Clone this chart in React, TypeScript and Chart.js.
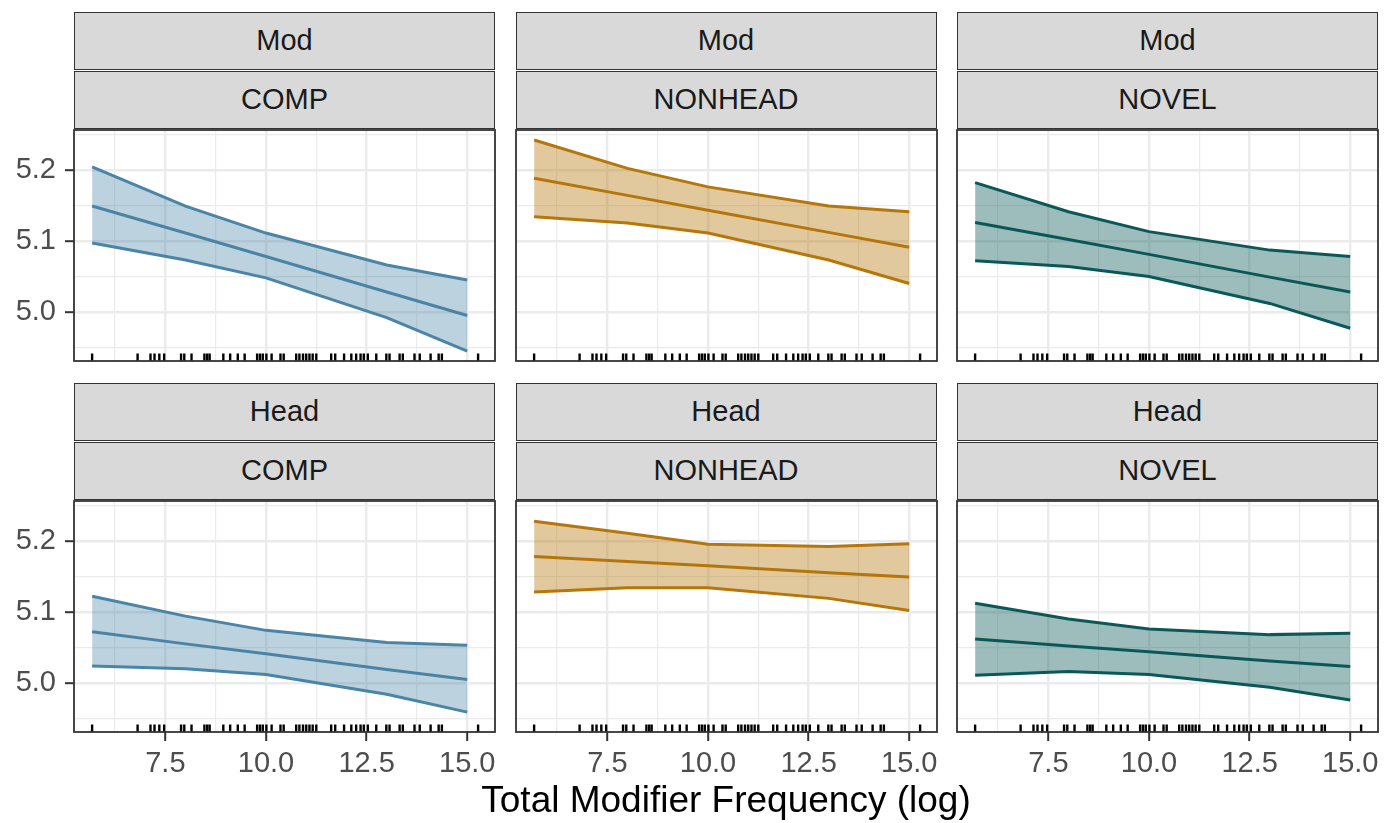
import React, { useEffect, useRef } from 'react';
import { Chart, registerables } from 'chart.js';

Chart.register(...registerables);

const FONT = "'Liberation Sans', Arial, sans-serif";
Chart.defaults.font.family = FONT;

// ---- data ----
const X_PRED = [5.68, 8, 10, 13, 15];
const RUG_X = [
  5.68, 6.81, 7.13, 7.23, 7.35, 7.47, 7.89, 7.97, 8.15, 8.47, 8.54, 8.6, 8.94, 9.11, 9.3, 9.47,
  9.78, 9.85, 9.92, 10.01, 10.14, 10.36, 10.44, 10.75, 10.83, 10.92, 11.0, 11.08, 11.16, 11.25,
  11.62, 11.72, 11.94, 12.12, 12.24, 12.35, 12.43, 12.53, 12.74, 12.99, 13.07, 13.32, 13.4,
  13.69, 13.82, 14.09, 14.29, 14.37, 15.27,
];

const ROW_LABELS = ['Mod', 'Head'];
const COL_LABELS = ['COMP', 'NONHEAD', 'NOVEL'];
const LINE_COLORS = ['#4A84A6', '#B5760A', '#0B5858'];
const FILL_COLORS = ['rgba(74,132,166,0.37)', 'rgba(181,118,10,0.40)', 'rgba(11,88,88,0.40)'];

const MOD_COMP_LO = [5.097, 5.073, 5.048, 4.992, 4.945];
const MOD_COMP_FIT = [5.149, 5.111, 5.078, 5.028, 4.995];
const MOD_COMP_HI = [5.204, 5.149, 5.111, 5.066, 5.045];

const MOD_NONHEAD_LO = [5.134, 5.125, 5.111, 5.073, 5.04];
const MOD_NONHEAD_FIT = [5.188, 5.164, 5.143, 5.112, 5.091];
const MOD_NONHEAD_HI = [5.242, 5.202, 5.176, 5.149, 5.141];

const MOD_NOVEL_LO = [5.072, 5.064, 5.05, 5.012, 4.977];
const MOD_NOVEL_FIT = [5.126, 5.102, 5.081, 5.049, 5.028];
const MOD_NOVEL_HI = [5.182, 5.141, 5.113, 5.087, 5.078];

const HEAD_COMP_LO = [5.024, 5.02, 5.012, 4.984, 4.959];
const HEAD_COMP_FIT = [5.072, 5.055, 5.041, 5.019, 5.005];
const HEAD_COMP_HI = [5.122, 5.094, 5.074, 5.057, 5.053];

const HEAD_NONHEAD_LO = [5.128, 5.134, 5.134, 5.119, 5.102];
const HEAD_NONHEAD_FIT = [5.178, 5.171, 5.165, 5.155, 5.149];
const HEAD_NONHEAD_HI = [5.2275, 5.2105, 5.195, 5.192, 5.196];

const HEAD_NOVEL_LO = [5.011, 5.016, 5.012, 4.994, 4.976];
const HEAD_NOVEL_FIT = [5.062, 5.052, 5.044, 5.031, 5.023];
const HEAD_NOVEL_HI = [5.112, 5.09, 5.076, 5.068, 5.07];

const PANEL_DATA = [
  [
    [MOD_COMP_LO, MOD_COMP_FIT, MOD_COMP_HI],
    [MOD_NONHEAD_LO, MOD_NONHEAD_FIT, MOD_NONHEAD_HI],
    [MOD_NOVEL_LO, MOD_NOVEL_FIT, MOD_NOVEL_HI],
  ],
  [
    [HEAD_COMP_LO, HEAD_COMP_FIT, HEAD_COMP_HI],
    [HEAD_NONHEAD_LO, HEAD_NONHEAD_FIT, HEAD_NONHEAD_HI],
    [HEAD_NOVEL_LO, HEAD_NOVEL_FIT, HEAD_NOVEL_HI],
  ],
];

const X_GRID = [6.25, 7.5, 8.75, 10, 11.25, 12.5, 13.75, 15];
const X_MAJOR = [7.5, 10, 12.5, 15];
const X_TICK_LABELS = ['7.5', '10.0', '12.5', '15.0'];
const Y_GRID = [4.95, 5.0, 5.05, 5.1, 5.15, 5.2, 5.25];
const Y_MAJOR = [5.0, 5.1, 5.2];
const Y_TICK_LABELS = ['5.0', '5.1', '5.2'];

const X_MIN = 5.23;
const X_MAX = 15.69;
const Y_MIN = 4.931;
const Y_MAX = 5.256;

const X_TITLE = 'Total Modifier Frequency (log)';

// ---- layout ----
const PX = [74, 515.5, 957];
const PY = [130, 501];
const PW = 421;
const PH = 231;
const STRIP_TOP = [
  [11.5, 70.5],
  [382.5, 441.5],
];
const STRIP_H = 58;

const majorIndex = (list: number[], v: number) => list.findIndex((m) => Math.abs(m - v) < 1e-6);

const panelDecor = {
  id: 'panelDecor',
  afterDatasetsDraw(chart: any) {
    const { ctx, chartArea: a, scales } = chart;
    ctx.save();
    ctx.strokeStyle = '#000000';
    ctx.lineWidth = 2.4;
    for (const v of RUG_X) {
      const x = scales.x.getPixelForValue(v);
      ctx.beginPath();
      ctx.moveTo(x, a.bottom);
      ctx.lineTo(x, a.bottom - 7.5);
      ctx.stroke();
    }
    ctx.strokeStyle = '#333333';
    ctx.lineWidth = 1.8;
    ctx.strokeRect(a.left, a.top, a.right - a.left, a.bottom - a.top);
    ctx.restore();
  },
};

function Panel({ row, col }: { row: number; col: number }) {
  const ref = useRef<HTMLCanvasElement>(null);
  const isLeft = col === 0;
  const isBottom = row === 1;
  const padL = 4;
  const padT = 4;
  const padR = 10;
  const yW = isLeft ? 70 : 0;
  const xH = isBottom ? 60 : 0;
  const padB = isBottom ? 0 : 4;
  const cl = PX[col] - yW - padL;
  const ct = PY[row] - padT;
  const cw = PW + yW + padL + padR;
  const ch = PH + padT + xH + padB;

  useEffect(() => {
    const [lo, fit, hi] = PANEL_DATA[row][col];
    const toPts = (arr: number[]) => X_PRED.map((x, i) => ({ x, y: arr[i] }));
    const color = LINE_COLORS[col];
    const chart = new Chart(ref.current as HTMLCanvasElement, {
      type: 'line',
      data: {
        datasets: [
          { data: toPts(lo), borderColor: color, borderWidth: 3, fill: false, pointRadius: 0 },
          { data: toPts(hi), borderColor: color, borderWidth: 3, fill: '-1', backgroundColor: FILL_COLORS[col], pointRadius: 0 },
          { data: toPts(fit), borderColor: color, borderWidth: 3, fill: false, pointRadius: 0 },
        ],
      },
      options: {
        animation: false,
        responsive: false,
        events: [],
        layout: { padding: { left: padL, top: padT, right: padR, bottom: padB } },
        plugins: { legend: { display: false }, tooltip: { enabled: false } },
        elements: { line: { tension: 0 }, point: { radius: 0 } },
        scales: {
          x: {
            type: 'linear',
            min: X_MIN,
            max: X_MAX,
            afterBuildTicks: (s: any) => {
              s.ticks = X_GRID.map((v) => ({ value: v }));
            },
            afterFit: (s: any) => {
              s.height = xH;
              s.paddingLeft = 0;
              s.paddingRight = 0;
              s.paddingTop = 0;
              s.paddingBottom = 0;
            },
            border: { display: false },
            grid: {
              color: '#EBEBEB',
              lineWidth: (c: any) => (majorIndex(X_MAJOR, c.tick?.value) >= 0 ? 2.4 : 1.2),
              drawTicks: isBottom,
              tickLength: 9,
              tickColor: (c: any) => (majorIndex(X_MAJOR, c.tick?.value) >= 0 ? '#333333' : 'rgba(0,0,0,0)'),
              tickWidth: 2,
            },
            ticks: {
              display: isBottom,
              autoSkip: false,
              maxRotation: 0,
              minRotation: 0,
              padding: 6,
              color: '#4D4D4D',
              font: { size: 29, family: FONT },
              callback: (v: any) => {
                const i = majorIndex(X_MAJOR, Number(v));
                return i >= 0 ? X_TICK_LABELS[i] : '';
              },
            },
          },
          y: {
            type: 'linear',
            min: Y_MIN,
            max: Y_MAX,
            afterBuildTicks: (s: any) => {
              s.ticks = Y_GRID.map((v) => ({ value: v }));
            },
            afterFit: (s: any) => {
              s.width = yW;
              s.paddingLeft = 0;
              s.paddingRight = 0;
              s.paddingTop = 0;
              s.paddingBottom = 0;
            },
            border: { display: false },
            grid: {
              color: '#EBEBEB',
              lineWidth: (c: any) => (majorIndex(Y_MAJOR, c.tick?.value) >= 0 ? 2.4 : 1.2),
              drawTicks: isLeft,
              tickLength: 9,
              tickColor: (c: any) => (majorIndex(Y_MAJOR, c.tick?.value) >= 0 ? '#333333' : 'rgba(0,0,0,0)'),
              tickWidth: 2,
            },
            ticks: {
              display: isLeft,
              autoSkip: false,
              padding: 9,
              color: '#4D4D4D',
              font: { size: 29, family: FONT },
              callback: (v: any) => {
                const i = majorIndex(Y_MAJOR, Number(v));
                return i >= 0 ? Y_TICK_LABELS[i] : '';
              },
            },
          },
        },
      } as any,
      plugins: [panelDecor],
    });
    return () => chart.destroy();
  }, []);

  return (
    <canvas
      ref={ref}
      width={cw}
      height={ch}
      style={{ position: 'absolute', left: cl, top: ct, width: cw, height: ch }}
    />
  );
}

function Strip({ row, col, level }: { row: number; col: number; level: number }) {
  const text = level === 0 ? ROW_LABELS[row] : COL_LABELS[col];
  return (
    <div
      style={{
        position: 'absolute',
        left: PX[col],
        top: STRIP_TOP[row][level],
        width: PW,
        height: STRIP_H,
        boxSizing: 'border-box',
        background: '#D9D9D9',
        border: '1.8px solid #333333',
        display: 'flex',
        alignItems: 'center',
        justifyContent: 'center',
        fontFamily: FONT,
        fontSize: 29,
        color: '#1A1A1A',
      }}
    >
      {text}
    </div>
  );
}

export default function App() {
  const cells: React.ReactNode[] = [];
  for (let r = 0; r < 2; r++) {
    for (let c = 0; c < 3; c++) {
      cells.push(<Strip key={`s0-${r}-${c}`} row={r} col={c} level={0} />);
      cells.push(<Strip key={`s1-${r}-${c}`} row={r} col={c} level={1} />);
      cells.push(<Panel key={`p-${r}-${c}`} row={r} col={c} />);
    }
  }
  return (
    <div style={{ position: 'absolute', left: 0, top: 0, width: 1386, height: 823, background: '#FFFFFF', overflow: 'hidden' }}>
      {cells}
      <div
        style={{
          position: 'absolute',
          left: PX[0],
          width: PX[2] + PW - PX[0],
          top: 778,
          height: 44,
          lineHeight: '44px',
          textAlign: 'center',
          fontFamily: FONT,
          fontSize: 37,
          color: '#000000',
        }}
      >
        {X_TITLE}
      </div>
    </div>
  );
}
